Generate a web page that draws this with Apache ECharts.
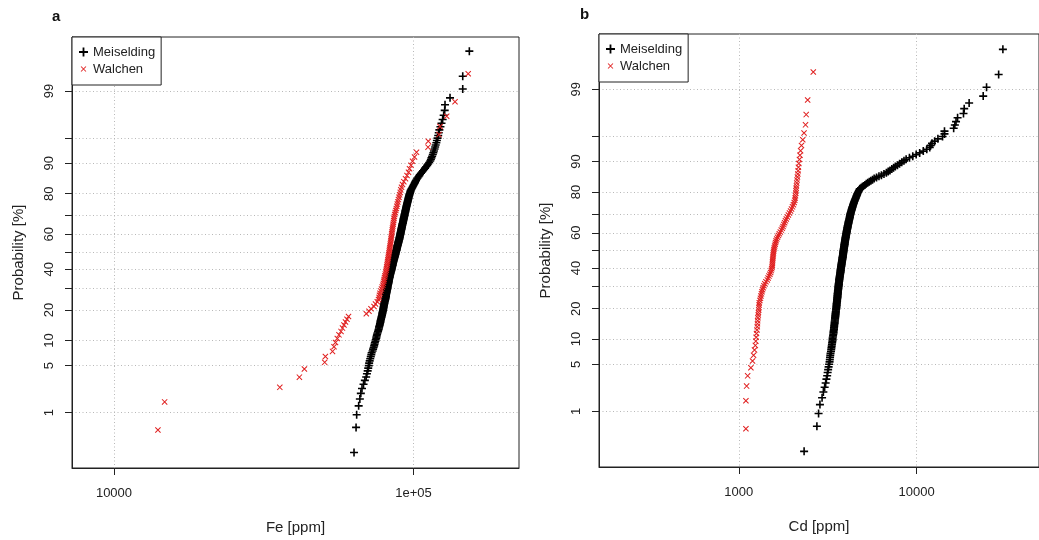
<!DOCTYPE html>
<html>
<head>
<meta charset="utf-8">
<script src="https://cdn.jsdelivr.net/npm/echarts/dist/echarts.min.js"></script>
<style>
html,body{margin:0;padding:0;background:#fff;}
#chart{width:1039px;height:540px;}
</style>
</head>
<body>
<div id="chart"></div>
<script>
// ---------------- data (sorted sample values) ----------------
const seriesNames = ['Meiselding', 'Walchen'];

const feMeiselding = [63300,64300,64600,65600,66200,66700,67300,68100,68800,69500,
69900,70300,70600,70900,71100,71400,71700,72000,72300,72500,
73000,73300,73600,73900,74100,74300,74600,74800,75100,75200,
75400,75600,75800,76100,76300,76500,76700,76800,77000,77200,
77300,77500,77600,77700,77900,78000,78200,78300,78500,78600,
78700,78800,79000,79100,79200,79300,79400,79500,79600,79700,
79800,79900,80000,80100,80300,80400,80500,80600,80700,80800,
80900,80900,81000,81100,81200,81300,81400,81500,81600,81700,
81800,81900,81900,82000,82100,82200,82300,82400,82500,82600,
82700,82700,82800,82900,83000,83100,83200,83300,83400,83500,
83600,83700,83800,83900,84100,84200,84300,84400,84500,84600,
84700,84800,84900,85000,85100,85200,85300,85400,85500,85600,
85700,85800,86000,86100,86200,86300,86400,86600,86700,86800,
86900,87000,87100,87200,87300,87400,87600,87700,87800,87900,
88000,88100,88200,88300,88400,88500,88700,88800,88900,89000,
89100,89200,89300,89500,89600,89700,89800,89900,90000,90100,
90200,90300,90400,90500,90600,90700,90800,90900,91000,91100,
91200,91300,91400,91500,91600,91700,91800,91900,92100,92200,
92300,92400,92500,92600,92700,92800,92900,93100,93200,93300,
93400,93500,93700,93800,93900,94000,94100,94300,94400,94500,
94700,94800,94900,95100,95200,95400,95500,95700,95800,96000,
96200,96300,96500,96700,96800,97000,97300,97500,97700,97900,
98300,98700,99100,99500,99900,100300,100800,101200,101600,102000,
102600,103200,103900,104500,105100,105900,106800,107600,108500,109300,
110200,111100,111900,112800,113700,114300,114800,115400,116000,116500,
117000,117600,118100,118600,119200,119700,120300,120900,121400,122000,
123000,124000,125100,126100,127100,127400,132400,146000,146000,153600];

const feWalchen = [14020,14760,35780,41590,43220,50520,50790,53650,54270,54900,
55660,56390,57270,57930,58600,59280,59970,60670,69560,71020,
72120,73810,74660,75700,76400,76700,76990,77290,77770,78190,
78610,78970,79280,79520,79760,80010,80260,80510,80750,81000,
81250,81380,81570,81760,81940,82130,82320,82450,82640,82830,
83020,83150,83340,83540,83670,83860,83990,84180,84310,84510,
84570,84770,84960,85090,85290,85490,85690,85880,86080,86280,
86550,86880,87280,87620,87950,88290,88630,89040,89450,89870,
90280,90700,91190,91890,92820,94040,95130,96230,96980,98100,
99240,100780,102340,111790,112040,121650,122590,129070,137580,152270];

const cdMeiselding = [2330,2750,2810,2860,2940,2990,3040,3080,3110,3140,
3160,3180,3200,3220,3240,3250,3260,3270,3280,3300,
3310,3320,3330,3340,3350,3360,3370,3370,3380,3390,
3400,3410,3410,3420,3430,3430,3440,3440,3450,3460,
3460,3470,3470,3480,3480,3490,3490,3500,3500,3510,
3510,3520,3520,3530,3530,3540,3540,3550,3550,3550,
3560,3560,3570,3570,3570,3580,3580,3590,3590,3590,
3600,3600,3600,3610,3610,3610,3620,3620,3630,3630,
3630,3640,3640,3650,3650,3650,3660,3660,3670,3670,
3670,3680,3680,3690,3690,3700,3700,3710,3710,3720,
3720,3730,3730,3740,3740,3740,3750,3750,3760,3760,
3770,3770,3780,3780,3790,3790,3800,3800,3810,3810,
3820,3820,3830,3830,3840,3840,3850,3850,3860,3860,
3860,3870,3870,3880,3880,3890,3890,3900,3900,3910,
3910,3920,3920,3930,3930,3940,3940,3950,3950,3960,
3960,3970,3970,3980,3990,3990,4000,4000,4010,4020,
4020,4030,4040,4040,4050,4050,4060,4070,4080,4080,
4090,4100,4100,4110,4120,4130,4140,4140,4150,4160,
4170,4180,4190,4200,4210,4210,4220,4230,4240,4250,
4260,4270,4280,4300,4310,4320,4330,4350,4360,4380,
4390,4400,4420,4440,4450,4470,4490,4510,4530,4550,
4570,4590,4610,4630,4650,4680,4710,4740,4770,4790,
4870,4950,5030,5120,5210,5310,5420,5530,5650,5770,
5950,6140,6340,6550,6760,6920,7080,7250,7420,7590,
7800,8020,8250,8490,8730,9110,9510,9940,10400,10900,
11400,11850,12000,12200,12630,13170,13980,14340,14340,16150,
16400,16650,16990,18340,18510,19730,23670,24720,28910,30540];

const cdWalchen = [1097,1097,1107,1122,1170,1195,1211,1226,1239,1247,
1253,1258,1266,1271,1274,1277,1282,1287,1290,1295,
1299,1301,1304,1314,1324,1332,1342,1351,1360,1372,
1386,1402,1422,1447,1462,1479,1496,1511,1523,1532,
1540,1544,1546,1548,1550,1554,1558,1562,1566,1570,
1576,1584,1592,1602,1611,1621,1635,1652,1671,1690,
1712,1734,1756,1774,1793,1811,1830,1851,1874,1901,
1928,1955,1980,2005,2029,2049,2065,2076,2084,2092,
2097,2102,2110,2118,2127,2137,2148,2157,2165,2176,
2193,2209,2226,2252,2290,2328,2373,2394,2440,2624];

// tick values / labels
const probGridLines = [1,5,10,20,30,40,50,60,70,80,90,95,99];
const probTickLabels = [1,5,10,20,40,60,80,90,99];
const feTicks = [10000, 100000];
const feTickLabels = ['10000', '1e+05'];
const cdTicks = [1000, 10000];
const cdTickLabels = ['1000', '10000'];

// ---------------- normal probability scale ----------------
function qnorm(p){
  const a=[-3.969683028665376e+01,2.209460984245205e+02,-2.759285104469687e+02,1.383577518672690e+02,-3.066479806614716e+01,2.506628277459239e+00];
  const b=[-5.447609879822406e+01,1.615858368580409e+02,-1.556989798598866e+02,6.680131188771972e+01,-1.328068155288572e+01];
  const c=[-7.784894002430293e-03,-3.223964580411365e-01,-2.400758277161838e+00,-2.549732539343734e+00,4.374664141464968e+00,2.938163982698783e+00];
  const d=[7.784695709041462e-03,3.224671290700398e-01,2.445134137142996e+00,3.754408661907416e+00];
  const pl=0.02425, ph=1-pl;
  let q, r;
  if (p < pl) { q=Math.sqrt(-2*Math.log(p)); return (((((c[0]*q+c[1])*q+c[2])*q+c[3])*q+c[4])*q+c[5])/((((d[0]*q+d[1])*q+d[2])*q+d[3])*q+1); }
  if (p <= ph) { q=p-0.5; r=q*q; return (((((a[0]*r+a[1])*r+a[2])*r+a[3])*r+a[4])*r+a[5])*q/(((((b[0]*r+b[1])*r+b[2])*r+b[3])*r+b[4])*r+1); }
  q=Math.sqrt(-2*Math.log(1-p)); return -(((((c[0]*q+c[1])*q+c[2])*q+c[3])*q+c[4])*q+c[5])/((((d[0]*q+d[1])*q+d[2])*q+d[3])*q+1);
}
// probability plot: sorted values vs normal quantile of plotting position (i-0.5)/n
function probPoints(values){
  const s = values.slice().sort((x,y)=>x-y);
  const n = s.length;
  return s.map((v,i)=>[v, qnorm((i+0.5)/n)]);
}

const FONT = 'Liberation Sans, Arial, sans-serif';
const TXT = '#222';
const plusPath = 'path://M4,0H6V10H4ZM0,4H10V6H0Z';
const crossPath = 'path://M0,1.2L1.2,0L10,8.8L8.8,10ZM8.8,0L10,1.2L1.2,10L0,8.8Z';
const crossIcon = 'path://M-3,-3h0.01v0.01h-0.01ZM13,13h0.01v0.01h-0.01ZM0,1.2L1.2,0L10,8.8L8.8,10ZM8.8,0L10,1.2L1.2,10L0,8.8Z';
const gridLineStyle = {color:'#b8b8b8', width:1, type:[1,2.5]};

function yAxisFor(gi, min, max){
  return {
    type:'value', gridIndex:gi, min:min, max:max,
    axisLine:{show:true, onZero:false, lineStyle:{color:TXT, width:1}},
    axisTick:{show:true, inside:false, length:7, lineStyle:{color:TXT}, customValues: probGridLines.map(p=>qnorm(p/100))},
    axisLabel:{show:true, customValues: probTickLabels.map(p=>qnorm(p/100)), rotate:90, margin:16, fontSize:13, color:TXT, fontFamily:FONT,
      formatter:function(v){ const k = probTickLabels.find(p=>Math.abs(qnorm(p/100)-v)<1e-6); return k===undefined?'':String(k); }},
    splitLine:{show:true, lineStyle:gridLineStyle},
    name:'Probability [%]', nameLocation:'middle', nameGap:46, nameRotate:90,
    nameTextStyle:{fontSize:15, color:TXT, fontFamily:FONT}
  };
}
function xAxisFor(gi, min, max, ticks, labels, title){
  return {
    type:'log', logBase:10, gridIndex:gi, min:min, max:max,
    axisLine:{show:true, onZero:false, lineStyle:{color:TXT, width:1}},
    axisTick:{show:true, inside:false, length:7, lineStyle:{color:TXT}, customValues: ticks},
    axisLabel:{show:true, customValues: ticks, margin:19, fontSize:13, color:TXT, fontFamily:FONT,
      formatter:function(v){ const i = ticks.findIndex(t=>Math.abs(t-v)/t<1e-6); return i<0?'':labels[i]; }},
    splitLine:{show:true, lineStyle:gridLineStyle},
    name:title, nameLocation:'middle', nameGap:52,
    nameTextStyle:{fontSize:15, color:TXT, fontFamily:FONT}
  };
}
function legendFor(left, top){
  return {
    left:left, top:top, orient:'vertical', selectedMode:false,
    backgroundColor:'#fff', borderColor:TXT, borderWidth:1, borderRadius:0,
    padding:[8,6,9,7], itemGap:3, itemWidth:9, itemHeight:9,
    textStyle:{fontSize:13, color:TXT, fontFamily:FONT, lineHeight:14},
    data:[{name:seriesNames[0], icon:plusPath}, {name:seriesNames[1], icon:crossIcon}]
  };
}
function scatter(name, xi, data, isPlus){
  return {
    type:'scatter', name:name, xAxisIndex:xi, yAxisIndex:xi, data:probPoints(data),
    symbol: isPlus ? plusPath : crossPath, symbolSize: isPlus ? 8 : 6,
    itemStyle:{color: isPlus ? '#000000' : '#e01f1f', opacity:1},
    silent:true, animation:false, z:isPlus?2:3
  };
}

const chart = echarts.init(document.getElementById('chart'), null, {renderer:'canvas'});
chart.setOption({
  animation:false,
  backgroundColor:'#ffffff',
  grid:[
    {left:72, top:37, width:447, height:431, show:true, borderColor:TXT, borderWidth:1, backgroundColor:'transparent', containLabel:false},
    {left:599, top:34, width:447, height:433, show:true, borderColor:TXT, borderWidth:1, backgroundColor:'transparent', containLabel:false}
  ],
  xAxis:[
    xAxisFor(0, 7242, 225000, feTicks, feTickLabels, 'Fe [ppm]'),
    xAxisFor(1, 163.8, 48740, cdTicks, cdTickLabels, 'Cd [ppm]')
  ],
  yAxis:[
    yAxisFor(0, -3.126, 3.107),
    yAxisFor(1, -3.128, 3.124)
  ],
  legend:[legendFor(72, 37), legendFor(599, 34)],
  graphic:[
    {type:'text', left:52, top:9, style:{text:'a', fontSize:15, fontWeight:'bold', fill:'#111', fontFamily:FONT}},
    {type:'text', left:580, top:7, style:{text:'b', fontSize:15, fontWeight:'bold', fill:'#111', fontFamily:FONT}}
  ],
  series:[
    scatter(seriesNames[0], 0, feMeiselding, true),
    scatter(seriesNames[1], 0, feWalchen, false),
    scatter(seriesNames[0], 1, cdMeiselding, true),
    scatter(seriesNames[1], 1, cdWalchen, false)
  ]
});
</script>
</body>
</html>
